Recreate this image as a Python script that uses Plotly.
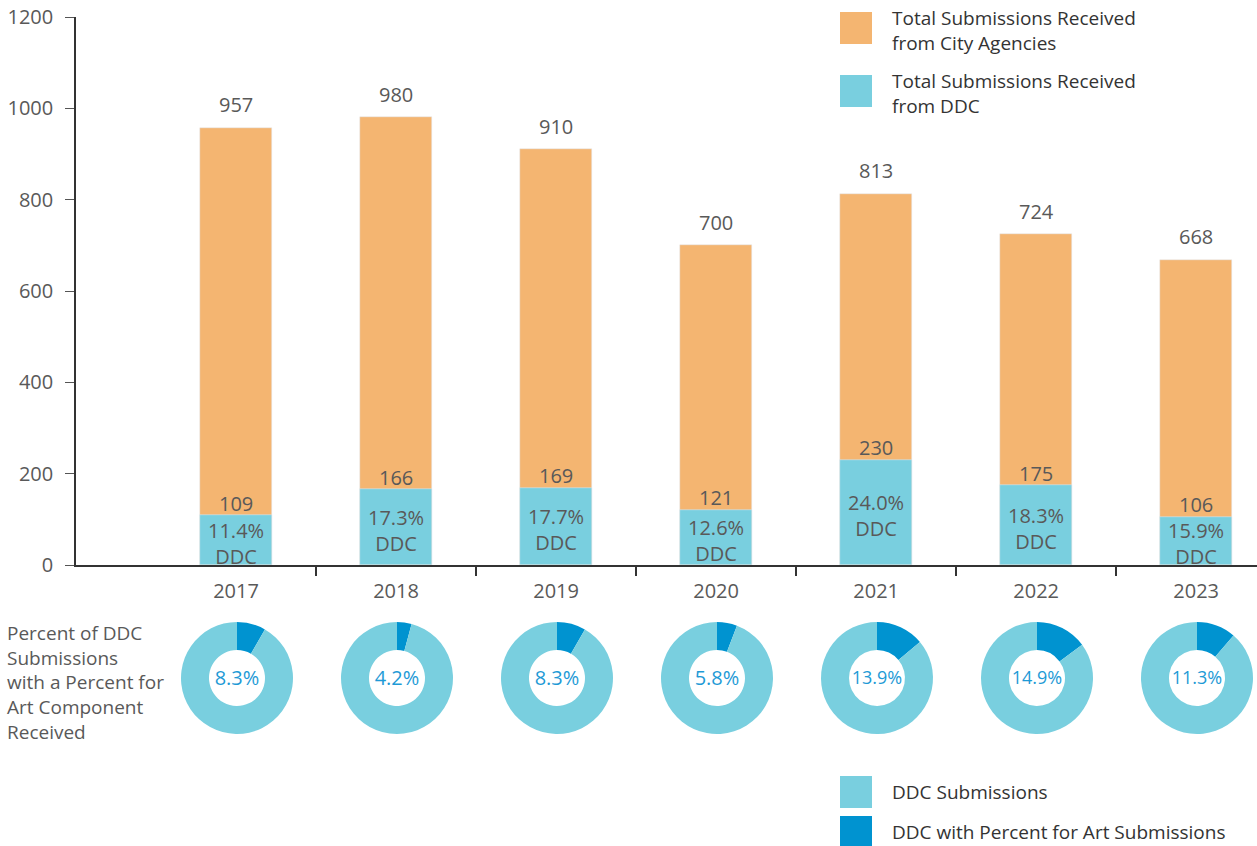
import plotly.graph_objects as go

years = ["2017", "2018", "2019", "2020", "2021", "2022", "2023"]
total_submissions = [957, 980, 910, 700, 813, 724, 668]
ddc_submissions = [109, 166, 169, 121, 230, 175, 106]
ddc_share_pct = ["11.4", "17.3", "17.7", "12.6", "24.0", "18.3", "15.9"]
pfa_pct = [8.3, 4.2, 8.3, 5.8, 13.9, 14.9, 11.3]
y_ticks = [0, 200, 400, 600, 800, 1000, 1200]

ORANGE = "#F4B571"
LIGHT = "#79CFDF"
DARK = "#0093D0"
TXT = "#595959"
FONT = "Open Sans"

W, H = 1257, 846
X0, YT, YB = 76, 17, 565


def sx(px):
    return px / W


def sy(py):
    return 1 - py / H


fig = go.Figure()
fig.add_trace(go.Bar(x=years, y=total_submissions, marker_color=ORANGE, width=0.45,
                     hoverinfo="skip", showlegend=False))
fig.add_trace(go.Bar(x=years, y=ddc_submissions, marker_color=LIGHT, width=0.45,
                     hoverinfo="skip", showlegend=False))

# boundary tick marks on an overlaid linear axis
fig.add_trace(go.Scatter(x=[None], y=[None], xaxis="x2", showlegend=False, hoverinfo="skip"))

lab_font = dict(size=20, color=TXT, family=FONT)
ann = []
for i, (tot, ddc, sh) in enumerate(zip(total_submissions, ddc_submissions, ddc_share_pct)):
    ann.append(dict(x=i, y=tot, xref="x", yref="y", text=str(tot), showarrow=False,
                    yanchor="middle", yshift=23, font=lab_font))
    ann.append(dict(x=i, y=ddc, xref="x", yref="y", text=str(ddc), showarrow=False,
                    yanchor="middle", yshift=12, font=lab_font))
    ann.append(dict(x=i, y=ddc / 2, xref="x", yref="y", text=f"{sh}%<br>DDC", showarrow=False,
                    yanchor="middle", yshift=-3, font=lab_font))

# donuts
for i, p in enumerate(pfa_pct):
    cx = 237 + 160 * i
    cy = 678
    r = 56
    fig.add_trace(go.Pie(values=[p, 100 - p], labels=["DDC with Percent for Art Submissions", "DDC Submissions"],
                         hole=0.5, sort=False, direction="clockwise", rotation=0,
                         marker=dict(colors=[DARK, LIGHT], line=dict(width=0)),
                         textinfo="none", hoverinfo="skip", showlegend=False,
                         domain=dict(x=[sx(cx - r), sx(cx + r)], y=[sy(cy + r), sy(cy - r)]),
                         title=dict(text=f"{p}%", position="middle center",
                                    font=dict(size=20, color="#1E9AD6", family=FONT))))

ann.append(dict(x=sx(5), y=sy(682), xref="paper", yref="paper", xanchor="left", yanchor="middle",
                align="left", showarrow=False,
                text="Percent of DDC<br>Submissions<br>with a Percent for<br>Art Component<br>Received",
                font=dict(size=19, color=TXT, family=FONT)))

# custom legends
shapes = []
legend_items = [
    (ORANGE, 12, "Total Submissions Received<br>from City Agencies", 30),
    (LIGHT, 75, "Total Submissions Received<br>from DDC", 93),
    (LIGHT, 776, "DDC Submissions", 792),
    (DARK, 816, "DDC with Percent for Art Submissions", 832),
]
for col, top, label, ty in legend_items:
    shapes.append(dict(type="rect", xref="paper", yref="paper", x0=sx(840), x1=sx(872),
                       y0=sy(top + 32), y1=sy(top), fillcolor=col, line=dict(width=0)))
    ann.append(dict(x=sx(890), y=sy(ty), xref="paper", yref="paper", xanchor="left", yanchor="middle",
                    align="left", showarrow=False, text=label,
                    font=dict(size=19, color="#333333", family=FONT)))

fig.update_layout(
    width=W, height=H, margin=dict(l=0, r=0, t=0, b=0, autoexpand=False),
    paper_bgcolor="white", plot_bgcolor="white", barmode="overlay", bargap=0,
    font=dict(family=FONT, color=TXT, size=20),
    xaxis=dict(domain=[sx(X0), 1], type="category", range=[-1.0, 6.38], showgrid=False,
               showline=True, linecolor="#333333", linewidth=1.5, ticks="", automargin=False,
               tickfont=dict(size=20, color=TXT), ticklabelstandoff=7, anchor="y"),
    xaxis2=dict(domain=[sx(X0), 1], overlaying="x", range=[-1.0, 6.38], anchor="y", side="bottom",
                tickvals=[0.5, 1.5, 2.5, 3.5, 4.5, 5.5], showticklabels=False, ticks="outside",
                ticklen=10, tickcolor="#333333", tickwidth=1.5, showgrid=False, showline=False,
                zeroline=False, automargin=False),
    yaxis=dict(domain=[sy(YB), sy(YT)], range=[0, 1200], tickvals=y_ticks, showgrid=False,
               showline=True, linecolor="#333333", linewidth=1.5, ticks="outside", ticklen=9,
               tickcolor="#555555", zeroline=False, tickfont=dict(size=20, color=TXT),
               ticklabelstandoff=8, automargin=False),
    annotations=ann, shapes=shapes,
)

fig.write_html("out.html", config={"displayModeBar": False},
               post_script="document.body.style.margin='0';")
